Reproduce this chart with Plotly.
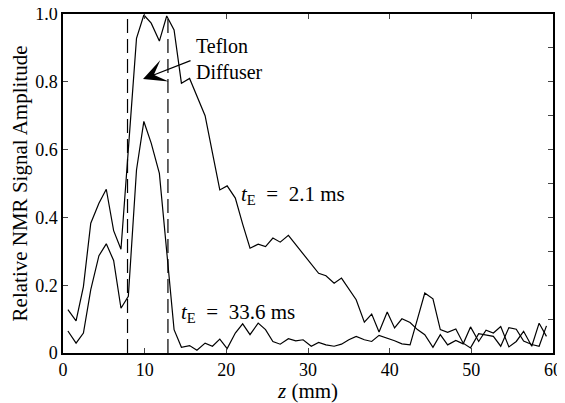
import plotly.graph_objects as go

# position along the sample (mm)
z_mm = [0.6, 1.6, 2.5, 3.4, 4.4, 5.3, 6.2, 7.1, 8.0, 9.0, 9.9, 10.8, 11.8, 12.7, 13.6, 14.5,
        15.5, 16.4, 17.4, 18.3, 19.2, 20.1, 21.1, 22.0, 22.9, 23.9, 24.8, 25.7, 26.6, 27.6,
        28.5, 29.4, 30.4, 31.3, 32.2, 33.2, 34.1, 35.0, 35.9, 36.9, 37.8, 38.7, 39.7, 40.6,
        41.5, 42.5, 43.4, 44.3, 45.3, 46.2, 47.1, 48.1, 49.0, 49.9, 50.9, 51.8, 52.7, 53.6,
        54.6, 55.5, 56.4, 57.4, 58.3, 59.2]

# tE = 2.1 ms
amp_short = [0.128, 0.095, 0.196, 0.383, 0.442, 0.483, 0.361, 0.306, 0.60, 0.928, 0.997, 0.973,
             0.920, 0.994, 0.953, 0.796, 0.810, 0.756, 0.700, 0.590, 0.481, 0.493, 0.457, 0.380,
             0.309, 0.321, 0.314, 0.339, 0.327, 0.347, 0.320, 0.290, 0.260, 0.235, 0.228, 0.206,
             0.221, 0.187, 0.157, 0.091, 0.115, 0.062, 0.121, 0.074, 0.101, 0.090, 0.069, 0.054,
             0.017, 0.054, 0.024, 0.037, 0.027, 0.077, 0.034, 0.067, 0.059, 0.078, 0.018, 0.034,
             0.064, 0.020, 0.088, 0.049]

# tE = 33.6 ms
amp_long = [0.065, 0.029, 0.059, 0.187, 0.287, 0.322, 0.273, 0.132, 0.167, 0.540, 0.683, 0.619,
            0.530, 0.300, 0.069, 0.017, 0.022, 0.008, 0.029, 0.020, 0.041, 0.013, 0.059, 0.086,
            0.054, 0.088, 0.069, 0.034, 0.026, 0.042, 0.036, 0.039, 0.020, 0.031, 0.024, 0.020,
            0.026, 0.039, 0.049, 0.039, 0.034, 0.052, 0.044, 0.036, 0.027, 0.024, 0.100, 0.177,
            0.160, 0.069, 0.061, 0.071, 0.029, 0.015, 0.057, 0.054, 0.049, 0.020, 0.075, 0.070,
            0.035, 0.025, 0.020, 0.080]

diffuser_edges = [7.9, 12.85]

x_ticks = [0, 10, 20, 30, 40, 50, 60]
y_ticks = [0, 0.2, 0.4, 0.6, 0.8, 1.0]
y_tick_text = ["0", "0.2", "0.4", "0.6", "0.8", "1.0"]
y_minor = [0, 0.1, 0.2, 0.3, 0.4, 0.5, 0.6, 0.7, 0.8, 0.9, 1.0]

FONT = "Liberation Serif, Times New Roman, serif"

fig = go.Figure()
fig.add_trace(go.Scatter(x=z_mm, y=amp_short, mode="lines",
                         line=dict(color="black", width=1.2), showlegend=False))
fig.add_trace(go.Scatter(x=z_mm, y=amp_long, mode="lines",
                         line=dict(color="black", width=1.2), showlegend=False))
# invisible trace to activate right axis
fig.add_trace(go.Scatter(x=[0], y=[0], yaxis="y2", mode="markers",
                         marker=dict(opacity=0), showlegend=False, hoverinfo="skip"))

for xe in diffuser_edges:
    fig.add_shape(type="line", x0=xe, x1=xe, y0=0, y1=1, xref="x", yref="y",
                  line=dict(color="black", width=1.2, dash="14px,6px"))

fig.add_annotation(x=9.8, y=0.808, ax=49, ay=-19, xref="x", yref="y",
                   text="", showarrow=True, arrowhead=3, arrowsize=3.2,
                   arrowwidth=1.2, arrowcolor="black", standoff=0)
fig.add_annotation(x=16.0, y=0.866, xref="x", yref="y", xanchor="left", yanchor="middle",
                   align="left", showarrow=False, text="Teflon<br>Diffuser",
                   font=dict(family=FONT, size=20, color="black"))
fig.add_annotation(x=21.6, y=0.467, xref="x", yref="y", xanchor="left", yanchor="middle",
                   showarrow=False, text="<i>t</i><sub>E</sub>&nbsp;&nbsp;=&nbsp;&nbsp;2.1 ms",
                   font=dict(family=FONT, size=21, color="black"))
fig.add_annotation(x=14.2, y=0.119, xref="x", yref="y", xanchor="left", yanchor="middle",
                   showarrow=False, text="<i>t</i><sub>E</sub>&nbsp;&nbsp;=&nbsp;&nbsp;33.6 ms",
                   font=dict(family=FONT, size=21, color="black"))

# the page body adds an 8px offset; the figure is sized to fill the rest of the window
fig.update_layout(
    template="none",
    width=557, height=395,
    margin=dict(l=55, r=12, t=6, b=50, autoexpand=False),
    paper_bgcolor="white", plot_bgcolor="white",
    font=dict(family=FONT, size=18, color="black"),
    xaxis=dict(range=[0, 60], tickvals=x_ticks, ticks="inside", ticklen=5,
               showline=True, linecolor="black", linewidth=1.5, mirror="ticks",
               showgrid=False, zeroline=False, automargin=False,
               ticklabeloverflow="allow",
               title=dict(text="<i>z</i> (mm)", font=dict(size=21), standoff=4)),
    yaxis=dict(range=[0, 1], tickvals=y_ticks, ticktext=y_tick_text, ticks="inside",
               ticklen=5, showline=True, linecolor="black", linewidth=1.5, mirror=True,
               showgrid=False, zeroline=False, automargin=False,
               ticklabeloverflow="allow",
               title=dict(text="Relative NMR Signal Amplitude", font=dict(size=21), standoff=4)),
    yaxis2=dict(range=[0, 1], overlaying="y", side="right", tickvals=y_minor,
                ticks="inside", ticklen=5, showticklabels=False, showgrid=False,
                zeroline=False, showline=False, automargin=False),
)

fig.write_html("out.html")
